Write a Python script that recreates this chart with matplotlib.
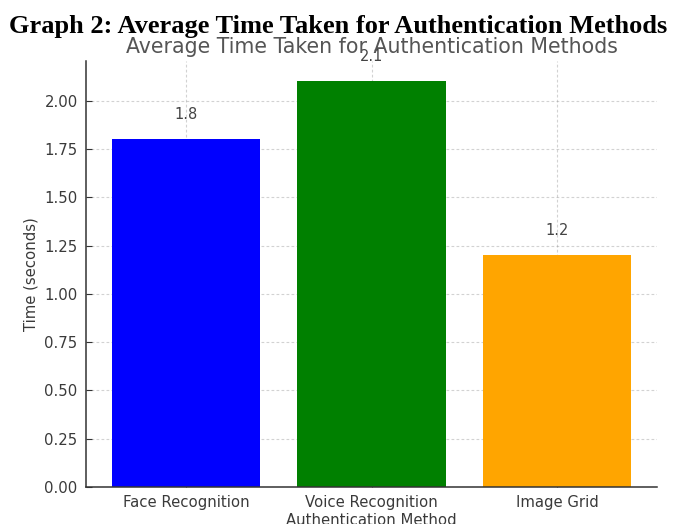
import matplotlib
matplotlib.use("Agg")
import matplotlib.pyplot as plt

methods = ["Face Recognition", "Voice Recognition", "Image Grid"]
times = [1.8, 2.1, 1.2]
colors = ["#0000ff", "#008000", "#ffa500"]

fig = plt.figure(figsize=(6.76, 5.24), dpi=100)
ax = fig.add_axes([86/676, 1 - 487/524, (657-86)/676, (487-61)/524])

bars = ax.bar(methods, times, color=colors, width=0.8, zorder=2)
for x, v in enumerate(times):
    ax.text(x, v + 0.09, f"{v}", ha="center", va="bottom", fontsize=10.5, color="#444444", zorder=3)

ax.grid(True, linestyle=(0, (2.5, 2)), color="gray", alpha=0.35, linewidth=0.8)
for g in ax.get_xgridlines() + ax.get_ygridlines():
    g.set_zorder(2.5)
for s in ["top", "right"]:
    ax.spines[s].set_visible(False)
for s in ["left", "bottom"]:
    ax.spines[s].set_color("#333333")
    ax.spines[s].set_linewidth(1.1)

ax.tick_params(direction="in", length=4, colors="#333333", labelsize=10.7, labelcolor="#3a3a3a", pad=6)
ax.set_xlabel("Authentication Method", fontsize=10.7, color="#3a3a3a", labelpad=2)
ax.set_ylabel("Time (seconds)", fontsize=10.7, color="#3a3a3a", labelpad=4)
ax.set_title("Average Time Taken for Authentication Methods", fontsize=14.8, color="#555555", pad=6)

fig.text(0.5, 1 - 33/524, "Graph 2: Average Time Taken for Authentication Methods",
         ha="center", va="baseline", fontsize=19.0, fontweight="bold",
         family=["Liberation Serif", "DejaVu Serif"], color="black")

fig.savefig("out.png", dpi=100)
